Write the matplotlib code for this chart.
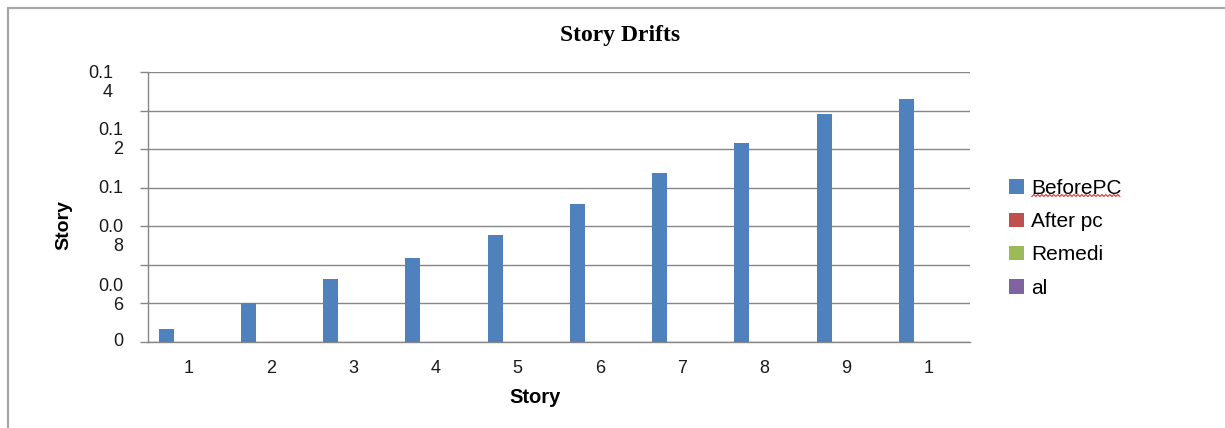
import numpy as np
import matplotlib
matplotlib.use("Agg")
import matplotlib.pyplot as plt
from matplotlib.patches import Patch, Rectangle
from matplotlib.lines import Line2D

# dados
stories = [1, 2, 3, 4, 5, 6, 7, 8, 9, 10]
story_labels = ['1', '2', '3', '4', '5', '6', '7', '8', '9', '1']
before_pc = [0.0065, 0.0198, 0.0325, 0.0434, 0.0553, 0.0714, 0.0874, 0.1029, 0.1181, 0.1260]
after_pc = [0, 0, 0, 0, 0, 0, 0, 0, 0, 0]
remedi = [0, 0, 0, 0, 0, 0, 0, 0, 0, 0]
al = [0, 0, 0, 0, 0, 0, 0, 0, 0, 0]
series_names = ['BeforePC', 'After pc', 'Remedi', 'al']

# grade do eixo y e os rotulos (quebrados como no original)
ygrid = [0, 0.02, 0.04, 0.06, 0.08, 0.10, 0.12, 0.14]
ytick_text = ['0.1\n4', '0.1\n2', '0.1', '0.0\n8', '0.0\n6', '0']
ytick_text_at = [0.1345, 0.1047, 0.0797, 0.0543, 0.0236, 0.0]

cores = ['#4F81BD', '#C0504D', '#9BBB59', '#8064A2']
cinza = '#868686'

plt.rcParams['font.family'] = ['Liberation Sans', 'DejaVu Sans']

def main():
    W, H = 1225, 428
    fig = plt.figure(figsize=(W / 100, H / 100), dpi=100)
    fig.patch.set_facecolor('white')

    # borda externa do grafico (cortada a direita e embaixo)
    fig.patches.append(Rectangle((8 / W, -0.1), 1.2, 1 - 8 / H + 0.1, transform=fig.transFigure,
                                 fill=False, edgecolor='#a6a6a6', linewidth=1.6))

    ax = fig.add_axes([147.5 / W, (H - 341.5) / H, (970 - 147.5) / W, (341.5 - 72) / H])
    x = np.arange(len(stories))
    w = 1 / 5.5
    todas = [before_pc, after_pc, remedi, al]
    for i, serie in enumerate(todas):
        ax.bar(x + (i - 1.5) * w, serie, width=w, color=cores[i], linewidth=0, zorder=3)

    ax.set_xlim(-0.5, len(stories) - 0.5)
    ax.set_ylim(0, 0.14)
    ax.set_yticks(ygrid)
    ax.set_yticklabels([])
    ax.tick_params(axis='y', direction='out', length=6, width=1.0, color=cinza)
    ax.yaxis.grid(True, color=cinza, linewidth=1.0, zorder=0)
    ax.set_axisbelow(True)
    ax.set_xticks(x)
    ax.set_xticklabels(story_labels, fontsize=13, color='#1a1a1a')
    ax.tick_params(axis='x', length=0, pad=13)
    for lado in ['top', 'right']:
        ax.spines[lado].set_visible(False)
    for lado in ['left', 'bottom']:
        ax.spines[lado].set_color(cinza)
        ax.spines[lado].set_linewidth(1.0)

    # rotulos do eixo y desenhados a mao para manter as quebras
    ytr = ax.get_yaxis_transform()
    for k, (txt, pos) in enumerate(zip(ytick_text, ytick_text_at)):
        xoff = -(147.5 - 113) / 822.5 if k == 0 else -(147.5 - 123) / 822.5
        ax.text(xoff, pos, txt, transform=ytr, ha='right', va='center', ma='right',
                fontsize=13, color='#1a1a1a', linespacing=1.15)

    ax.set_xlabel('Story', fontsize=14.5, fontweight='bold')
    ax.xaxis.set_label_coords((535 - 147.5) / 822.5, (341.5 - 388) / 269.5)
    ax.set_ylabel('Story', fontsize=14, fontweight='bold')
    ax.yaxis.set_label_coords((72 - 147.5) / 822.5, (341.5 - 225) / 269.5)

    fig.text(620 / W, 1 - 36 / H, 'Story Drifts', ha='center', va='center',
             fontsize=17, fontweight='bold', family=['Liberation Serif', 'DejaVu Serif'])

    handles = [Patch(facecolor=c, edgecolor='none') for c in cores]
    leg = fig.legend(handles, series_names, loc='upper left',
                     bbox_to_anchor=(1009 / W, 1 - 179 / H), frameon=False,
                     fontsize=15, handlelength=0.7, handleheight=0.7,
                     handletextpad=0.35, labelspacing=0.68, borderpad=0, borderaxespad=0)

    # sublinhado ondulado vermelho do corretor ortografico
    fig.canvas.draw()
    bb = leg.get_texts()[0].get_window_extent()
    xs = np.arange(bb.x0 + 1, bb.x1 - 1, 2.0)
    ys = bb.y0 + 1.5 + np.where(np.arange(len(xs)) % 2 == 0, 0, 2.0)
    fig.lines.append(Line2D(xs / W, ys / H, transform=fig.transFigure, color='#e03030', linewidth=0.8))

    fig.savefig('out.png', dpi=100)
    plt.close(fig)

if __name__ == '__main__':
    main()
